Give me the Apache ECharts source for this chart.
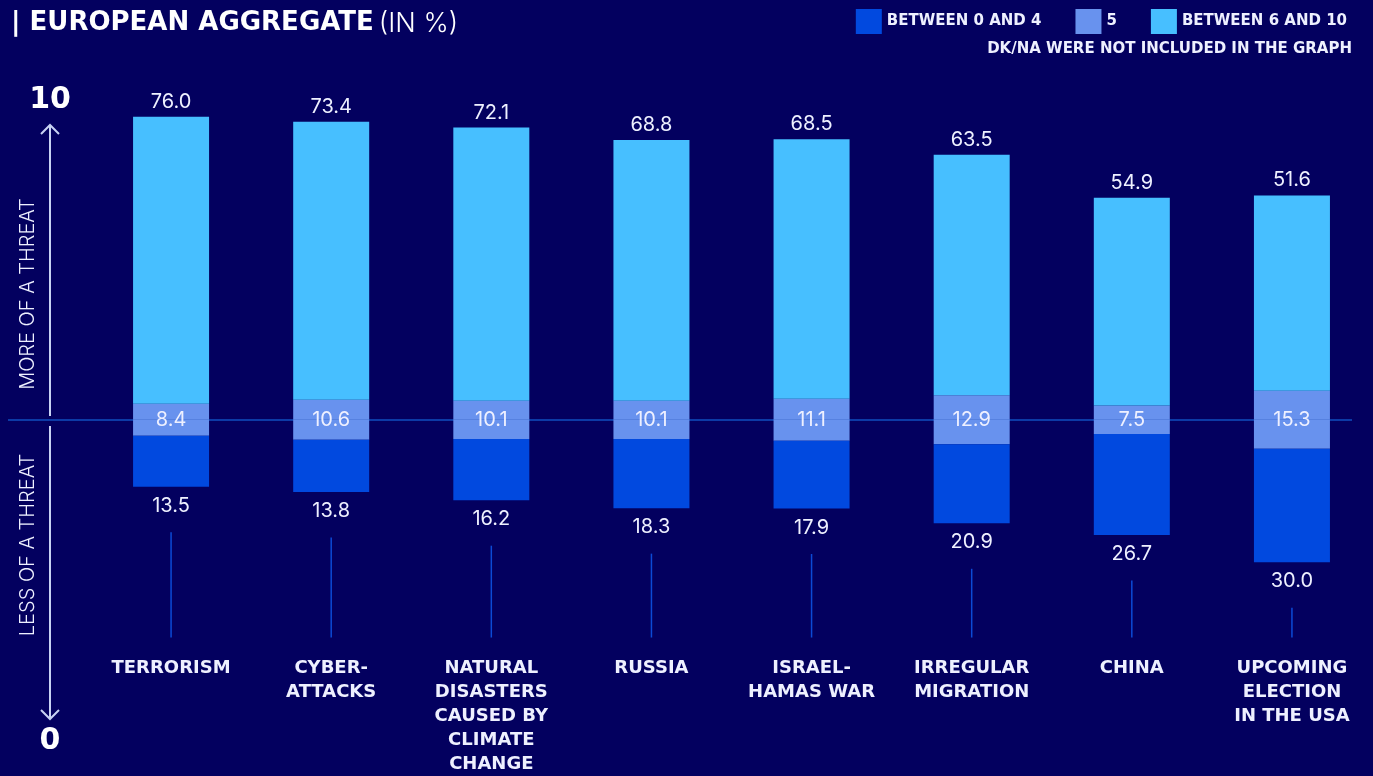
<!DOCTYPE html>
<html>
<head>
<meta charset="utf-8">
<script src="https://cdn.jsdelivr.net/npm/echarts@6/dist/echarts.min.js"></script>
<style>
  html, body { margin: 0; padding: 0; background: #03005f; }
  #chart { width: 1373px; height: 776px; }
</style>
</head>
<body>
<div id="chart"></div>
<script>
// Threat perception, European aggregate (share of respondents, %)
const categories = [
  'TERRORISM',
  'CYBER-\nATTACKS',
  'NATURAL\nDISASTERS\nCAUSED BY\nCLIMATE\nCHANGE',
  'RUSSIA',
  'ISRAEL-\nHAMAS WAR',
  'IRREGULAR\nMIGRATION',
  'CHINA',
  'UPCOMING\nELECTION\nIN THE USA'
];
const low = [13.5, 13.8, 16.2, 18.3, 17.9, 20.9, 26.7, 30.0];   // between 0 and 4
const mid = [8.4, 10.6, 10.1, 10.1, 11.1, 12.9, 7.5, 15.3];     // 5
const high = [76.0, 73.4, 72.1, 68.8, 68.5, 63.5, 54.9, 51.6];  // between 6 and 10

const NAME_LOW = 'BETWEEN 0 AND 4';
const NAME_MID = '5';
const NAME_HIGH = 'BETWEEN 6 AND 10';

const C_LOW = '#0149df';
const C_MID = '#6892ee';
const C_HIGH = '#47bfff';
const TEXT = '#eef0ff';
const FONT_BOLD = '"DejaVu Sans", Inter, sans-serif';
const FONT = 'Inter, "Open Sans", sans-serif';

const Y_MIN = -60, Y_MAX = 80;
const PX_PER_UNIT = 3.79;
const ZERO_Y = 420;
const gridTop = ZERO_Y - Y_MAX * PX_PER_UNIT;
const gridHeight = (Y_MAX - Y_MIN) * PX_PER_UNIT;

const valueLabel = {
  show: true,
  color: TEXT,
  fontFamily: FONT,
  fontSize: 20,
  fontWeight: 400
};

const chart = echarts.init(document.getElementById('chart'));

chart.setOption({
  backgroundColor: '#03005f',
  animation: false,
  title: {
    left: 6,
    top: 5,
    text: '{b|| EUROPEAN AGGREGATE} {r|(IN %)}',
    textStyle: {
      rich: {
        b: { fontFamily: FONT_BOLD, fontSize: 26, fontWeight: 700, color: '#ffffff' },
        r: { fontFamily: FONT, fontSize: 27, fontWeight: 300, color: '#ffffff' }
      }
    }
  },
  legend: {
    data: [NAME_LOW, NAME_MID, NAME_HIGH],
    right: 21,
    top: 4,
    itemWidth: 26,
    itemHeight: 25,
    itemGap: 34,
    icon: 'rect',
    selectedMode: false,
    textStyle: { color: TEXT, fontFamily: FONT_BOLD, fontSize: 15, fontWeight: 700 }
  },
  grid: { left: 91, right: 1, top: gridTop, height: gridHeight },
  xAxis: {
    type: 'category',
    data: categories,
    axisLine: { show: false, onZero: false },
    axisTick: { show: false },
    axisLabel: {
      color: TEXT,
      fontFamily: FONT_BOLD,
      fontSize: 18,
      fontWeight: 700,
      lineHeight: 24,
      margin: 9,
      interval: 0
    }
  },
  yAxis: {
    type: 'value',
    min: Y_MIN,
    max: Y_MAX,
    show: false,
    splitLine: { show: false }
  },
  graphic: [
    // zero line across the chart
    { type: 'line', shape: { x1: 8, y1: ZERO_Y, x2: 1352, y2: ZERO_Y },
      style: { stroke: '#0c3aa6', lineWidth: 2 }, z: 0 },
    // scale arrows on the left
    { type: 'line', shape: { x1: 50, y1: 125, x2: 50, y2: 416 },
      style: { stroke: '#c8d2f4', lineWidth: 2 } },
    { type: 'polyline', shape: { points: [[41, 134], [50, 125], [59, 134]] },
      style: { stroke: '#c8d2f4', lineWidth: 2, fill: null } },
    { type: 'line', shape: { x1: 50, y1: 426, x2: 50, y2: 719 },
      style: { stroke: '#c8d2f4', lineWidth: 2 } },
    { type: 'polyline', shape: { points: [[41, 710], [50, 719], [59, 710]] },
      style: { stroke: '#c8d2f4', lineWidth: 2, fill: null } },
    { type: 'text', x: 50, y: 100,
      style: { text: '10', fill: '#ffffff', font: '700 30px ' + FONT_BOLD, align: 'center', verticalAlign: 'middle' } },
    { type: 'text', x: 50, y: 741,
      style: { text: '0', fill: '#ffffff', font: '700 30px ' + FONT_BOLD, align: 'center', verticalAlign: 'middle' } },
    { type: 'text', x: 28, y: 294, rotation: Math.PI / 2,
      style: { text: 'MORE OF A THREAT', fill: TEXT, font: '300 20px ' + FONT, align: 'center', verticalAlign: 'middle' } },
    { type: 'text', x: 28, y: 545, rotation: Math.PI / 2,
      style: { text: 'LESS OF A THREAT', fill: TEXT, font: '300 20px ' + FONT, align: 'center', verticalAlign: 'middle' } },
    // note under the legend
    { type: 'text', right: 21, top: 42,
      style: { text: 'DK/NA WERE NOT INCLUDED IN THE GRAPH', fill: TEXT, font: '700 15px ' + FONT_BOLD } }
  ],
  series: [
    {
      name: NAME_MID, type: 'bar', stack: 'total', barWidth: 76,
      itemStyle: { color: C_MID },
      data: mid.map(v => -v / 2)
    },
    {
      name: NAME_LOW, type: 'bar', stack: 'total', barWidth: 76,
      itemStyle: { color: C_LOW },
      label: Object.assign({}, valueLabel, {
        position: 'bottom', distance: 9,
        formatter: p => low[p.dataIndex].toFixed(1)
      }),
      data: low.map(v => -v)
    },
    {
      name: NAME_MID, type: 'bar', stack: 'total', barWidth: 76,
      itemStyle: { color: C_MID },
      label: Object.assign({}, valueLabel, {
        position: ['50%', '100%'], align: 'center', verticalAlign: 'middle',
        formatter: p => mid[p.dataIndex].toFixed(1)
      }),
      data: mid.map(v => v / 2)
    },
    {
      name: NAME_HIGH, type: 'bar', stack: 'total', barWidth: 76,
      itemStyle: { color: C_HIGH },
      label: Object.assign({}, valueLabel, {
        position: 'top', distance: 5,
        formatter: p => high[p.dataIndex].toFixed(1)
      }),
      data: high
    },
    {
      // thin leader lines from the lower value label down to the category name
      type: 'custom',
      silent: true,
      data: categories.map((c, i) => [i, -(low[i] + mid[i] / 2)]),
      renderItem: (params, api) => {
        const top = api.coord([api.value(0), api.value(1) - 12]);
        const bottom = api.coord([api.value(0), -57.5]);
        return {
          type: 'line',
          shape: { x1: top[0], y1: top[1], x2: bottom[0], y2: bottom[1] },
          style: { stroke: '#0c4ad6', lineWidth: 1.5 }
        };
      }
    }
  ]
});
</script>
</body>
</html>
